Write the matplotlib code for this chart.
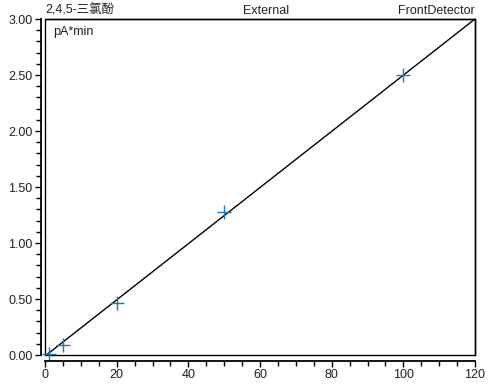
import numpy as np
import matplotlib
matplotlib.use('Agg')
import matplotlib.pyplot as plt
from matplotlib.patches import Rectangle
from matplotlib.ticker import MultipleLocator, FormatStrFormatter

# 标样数据 (浓度, 峰面积)
amounts = [1, 5, 20, 50, 100]
areas = [0.01, 0.09, 0.46, 1.28, 2.50]

# 校准曲线
slope = 0.02508
offset = -0.0096
line_x = [0.4, 120]

plt.rcParams['font.family'] = ['Liberation Sans', 'Noto Sans CJK SC', 'DejaVu Sans']
plt.rcParams['font.size'] = 9

fig = plt.figure(figsize=(4.88, 3.89), dpi=100)
ax = fig.add_axes([45 / 488, 34 / 389, 430 / 488, 336 / 389])

line_y = [slope * x + offset for x in line_x]
ax.plot(line_x, line_y, color='black', lw=1.0)
ax.plot(amounts, areas, linestyle='none', marker='+', markersize=10,
        markeredgewidth=1.0, color='#1577c8', clip_on=False)

ax.set_xlim(0, 120)
ax.set_ylim(0, 3.0)
ax.xaxis.set_major_locator(MultipleLocator(20))
ax.xaxis.set_minor_locator(MultipleLocator(5))
ax.yaxis.set_major_locator(MultipleLocator(0.5))
ax.yaxis.set_minor_locator(MultipleLocator(0.1))
ax.yaxis.set_major_formatter(FormatStrFormatter('%.2f'))

# 分离的坐标轴
ax.spines['left'].set_position(('outward', 3))
ax.spines['bottom'].set_position(('outward', 4))
for s in ['left', 'bottom']:
    ax.spines[s].set_linewidth(1.3)
for s in ['top', 'right']:
    ax.spines[s].set_linewidth(1.0)
ax.add_patch(Rectangle((0, 0), 1, 1, transform=ax.transAxes, fill=False,
                       lw=1.0, edgecolor='black', clip_on=False))
ax.tick_params(which='major', direction='out', length=4, width=1, pad=2,
               labelsize=9, labelcolor='#222222')
ax.tick_params(which='minor', direction='out', length=3.5, width=1)

txt = dict(transform=ax.transAxes, fontsize=9, color='#222222')
ax.text(0.0, 1.016, '2,4,5-三氯酚', ha='left', va='baseline', **txt)
ax.text(0.515, 1.016, 'External', ha='center', va='baseline', **txt)
ax.text(1.0, 1.016, 'FrontDetector', ha='right', va='baseline', **txt)
ax.text(0.018, 0.978, 'pA*min', ha='left', va='top', **txt)

fig.savefig('out.png', dpi=100)
